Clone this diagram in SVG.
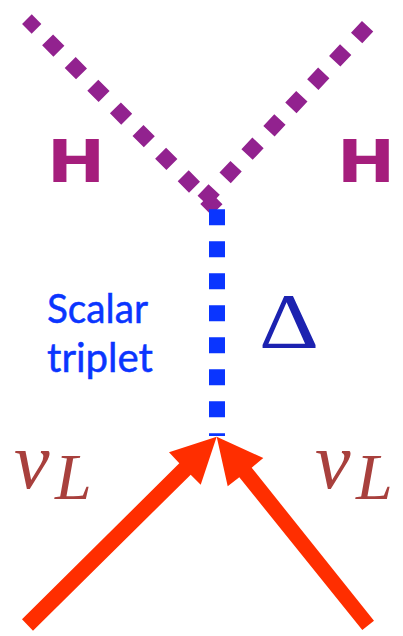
<svg xmlns="http://www.w3.org/2000/svg" width="403" height="636" viewBox="0 0 403 636">
<style>
.pur{fill:none;stroke:#92228f;stroke-width:15.5;stroke-dasharray:16 16}
.blu{fill:none;stroke:#0a35ff;stroke-width:16;stroke-dasharray:16 16}
.red{fill:#ff2e00}
.h{font-family:"DejaVu Sans",sans-serif;font-weight:700;font-size:59.4px;fill:#a51e7c}
.lab{font-family:Lato,"Liberation Sans",sans-serif;font-size:41px;fill:#0a35ff;stroke:#0a35ff;stroke-width:.5}
.nu{font-family:"Liberation Serif",serif;font-style:italic;fill:#a8403c}
.d{font-family:"Liberation Serif",serif;fill:#1a22b0}
</style>
<defs><filter id="soft" x="-20%" y="-20%" width="140%" height="140%"><feGaussianBlur stdDeviation="0.7"/></filter></defs>
<rect width="403" height="636" fill="#fff"/>
<g id="connectors">
<line class="pur" style="stroke-width:13.7;stroke-dasharray:none" x1="26.9" y1="19.2" x2="36.5" y2="28.8"/>
<line class="pur" x1="47.6" y1="39.9" x2="217" y2="209.7"/>
<line class="pur" x1="367.6" y1="26.3" x2="201" y2="203.5"/>
<line class="blu" x1="217" y1="209.3" x2="217" y2="436"/>
<polygon class="red" points="22,619.3 179.3,463.3 169,452.3 216.7,436.7 200.7,484.7 190.7,474.7 33,630.7"/>
<polygon class="red" points="374,620.7 251.7,467.7 263.3,458 216.7,436.7 227.7,486.3 239.3,477.3 362.3,630"/>
</g>
<g id="higgs-left"><text class="h" transform="translate(47 182.3) scale(1.17 1)" x="0" y="0">H</text></g>
<g id="higgs-right"><text class="h" transform="translate(337 182.3) scale(1.17 1)" x="0" y="0">H</text></g>
<g id="scalar-label"><text class="lab" x="47" y="323" textLength="101" lengthAdjust="spacingAndGlyphs">Scalar</text><text class="lab" x="47" y="371.5" textLength="106" lengthAdjust="spacingAndGlyphs">triplet</text></g>
<g id="delta" filter="url(#soft)"><text class="d" x="259" y="347" font-size="78" textLength="60" lengthAdjust="spacingAndGlyphs">Δ</text></g>
<g id="nu-left" filter="url(#soft)"><text class="nu" x="14" y="488" font-size="80">ν</text><text class="nu" x="55" y="499" font-size="66">L</text></g>
<g id="nu-right" filter="url(#soft)"><text class="nu" x="315" y="488" font-size="80">ν</text><text class="nu" x="356" y="499" font-size="66">L</text></g>
</svg>
